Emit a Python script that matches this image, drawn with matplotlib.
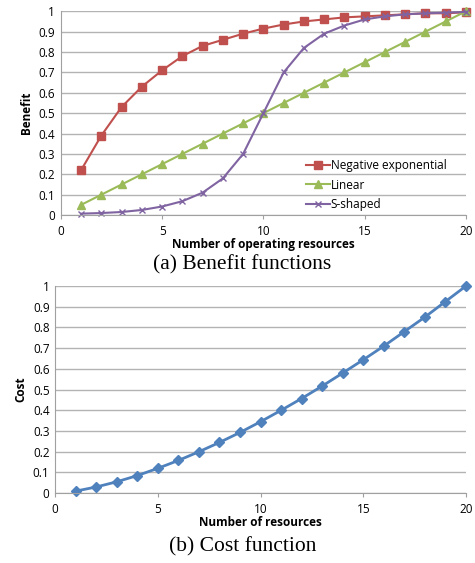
import numpy as np
import matplotlib.pyplot as plt

# --- DATA ---
x = list(range(1, 21))
neg_exp = [0.22, 0.39, 0.53, 0.63, 0.71, 0.78, 0.83, 0.86, 0.89, 0.915,
           0.935, 0.95, 0.96, 0.97, 0.975, 0.98, 0.985, 0.99, 0.99, 0.995]
linear = [0.05, 0.10, 0.15, 0.20, 0.25, 0.30, 0.35, 0.40, 0.45, 0.50,
          0.55, 0.60, 0.65, 0.70, 0.75, 0.80, 0.85, 0.90, 0.95, 1.00]
s_shaped = [0.007, 0.01, 0.015, 0.025, 0.042, 0.068, 0.11, 0.18, 0.30, 0.50,
            0.70, 0.82, 0.89, 0.93, 0.96, 0.975, 0.985, 0.99, 0.993, 0.997]
cost = [0.01, 0.03, 0.055, 0.085, 0.12, 0.158, 0.20, 0.245, 0.293, 0.345,
        0.40, 0.457, 0.517, 0.58, 0.644, 0.71, 0.78, 0.85, 0.925, 1.00]
xticks = [0, 5, 10, 15, 20]
yticks = [0, 0.1, 0.2, 0.3, 0.4, 0.5, 0.6, 0.7, 0.8, 0.9, 1]
ytick_labels = ['0', '0.1', '0.2', '0.3', '0.4', '0.5', '0.6', '0.7', '0.8', '0.9', '1']

plt.rcParams['font.family'] = 'Open Sans'

fig = plt.figure(figsize=(4.75, 5.63), dpi=100)
ax1 = fig.add_axes([0.128, 0.618, 0.853, 0.362])
ax2 = fig.add_axes([0.116, 0.124, 0.865, 0.368])


def style_axes(ax):
    ax.set_xlim(0, 20)
    ax.set_ylim(0, 1)
    ax.set_xticks(xticks)
    ax.set_yticks(yticks)
    ax.set_yticklabels(ytick_labels)
    ax.yaxis.grid(True, color='#b3b3b3', linewidth=1)
    ax.set_axisbelow(True)
    for s in ['top', 'right']:
        ax.spines[s].set_visible(False)
    for s in ['left', 'bottom']:
        ax.spines[s].set_color('#a0a0a0')
    ax.tick_params(axis='y', length=0, labelsize=8.5, pad=4)
    ax.tick_params(axis='x', length=3, color='#a0a0a0', labelsize=8.5, pad=4)


# --- BENEFIT FUNCTIONS ---
ax1.plot(x, neg_exp, color='#C0504D', marker='s', markersize=5.5, linewidth=1.5,
         label='Negative exponential', clip_on=False)
ax1.plot(x, linear, color='#9BBB59', marker='^', markersize=5.5, linewidth=1.5,
         label='Linear', clip_on=False)
ax1.plot(x, s_shaped, color='#8064A2', marker='x', markersize=4.5, linewidth=1.5,
         markeredgewidth=1, label='S-shaped', clip_on=False)
style_axes(ax1)
ax1.set_xlabel('Number of operating resources', fontsize=8.5, fontweight='bold', labelpad=0)
ax1.set_ylabel('Benefit', fontsize=8.5, fontweight='bold', labelpad=4)
ax1.legend(loc='upper left', bbox_to_anchor=(0.605, 0.275), frameon=False, fontsize=8.5,
           borderpad=0, borderaxespad=0, handlelength=2.0, handletextpad=0.1,
           labelspacing=0.55)
fig.text(0.51, 0.529, '(a) Benefit functions', ha='center', va='center',
         family='Liberation Serif', fontsize=15.5)

# --- COST FUNCTION ---
ax2.plot(x, cost, color='#4F81BD', marker='D', markersize=5, linewidth=2, clip_on=False)
style_axes(ax2)
ax2.set_xlabel('Number of resources', fontsize=8.5, fontweight='bold', labelpad=0)
ax2.set_ylabel('Cost', fontsize=8.5, fontweight='bold', labelpad=4)
fig.text(0.51, 0.028, '(b) Cost function', ha='center', va='center',
         family='Liberation Serif', fontsize=15.5)

fig.savefig('out.png', dpi=100)
